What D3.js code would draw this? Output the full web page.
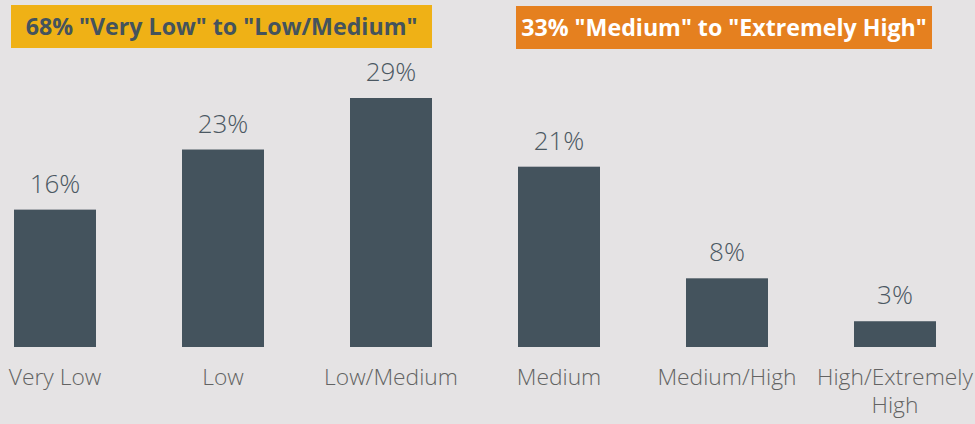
<!DOCTYPE html>
<html>
<head>
<meta charset="utf-8">
<script src="https://cdn.jsdelivr.net/npm/d3@7"></script>
<style>
  html, body { margin: 0; padding: 0; background: #e5e3e4; }
  svg { display: block; }
</style>
</head>
<body>
<svg id="chart" width="975" height="424"></svg>
<script>
// Share of responses by risk level
const categories = ["Very Low", "Low", "Low/Medium", "Medium", "Medium/High", "High/Extremely High"];
const categoryLines = [["Very Low"], ["Low"], ["Low/Medium"], ["Medium"], ["Medium/High"], ["High/Extremely", "High"]];
const values = [16, 23, 29, 21, 8, 3];

// Group summary banners
const groupLabels = ['68% "Very Low" to "Low/Medium"', '33% "Medium" to "Extremely High"'];
const groupFill = ["#efb116", "#e5801f"];
const groupText = ["#44535d", "#ffffff"];

const W = 975, H = 424;
const baseline = 347;
const svg = d3.select("#chart");

svg.append("rect").attr("width", W).attr("height", H).attr("fill", "#e5e3e4");

const x = d3.scaleBand()
  .domain(categories)
  .range([-29, 979])
  .paddingInner(0.512)
  .paddingOuter(0.256);

const y = d3.scaleLinear()
  .domain([0, 29])
  .range([baseline, 98]);

// Bars
svg.append("g").selectAll("rect")
  .data(values)
  .join("rect")
  .attr("x", (d, i) => x(categories[i]))
  .attr("y", d => y(d))
  .attr("width", x.bandwidth())
  .attr("height", d => baseline - y(d))
  .attr("fill", "#44535d");

// Value labels
svg.append("g").selectAll("text")
  .data(values)
  .join("text")
  .attr("x", (d, i) => x(categories[i]) + x.bandwidth() / 2)
  .attr("y", d => y(d) - 17)
  .attr("text-anchor", "middle")
  .attr("font-family", "'Open Sans', sans-serif")
  .attr("font-weight", 300)
  .attr("font-size", 26)
  .attr("fill", "#4b5862")
  .text(d => d + "%");

// Category axis labels
const cat = svg.append("g").selectAll("text")
  .data(categories)
  .join("text")
  .attr("x", d => x(d) + x.bandwidth() / 2)
  .attr("y", 385)
  .attr("text-anchor", "middle")
  .attr("font-family", "'Open Sans', sans-serif")
  .attr("font-weight", 300)
  .attr("font-size", 22.8)
  .attr("fill", "#636363");
cat.selectAll("tspan")
  .data((d, i) => categoryLines[i])
  .join("tspan")
  .attr("x", function() { return this.parentNode.getAttribute("x"); })
  .attr("dy", (d, j) => j === 0 ? 0 : 28)
  .text(d => d);

// Group banners
const banners = [
  { x0: 11, x1: 432, y0: 5, y1: 48 },
  { x0: 516, x1: 932, y0: 6, y1: 49 }
];
const bg = svg.append("g").selectAll("g")
  .data(groupLabels)
  .join("g");
bg.append("rect")
  .attr("x", (d, i) => banners[i].x0)
  .attr("y", (d, i) => banners[i].y0)
  .attr("width", (d, i) => banners[i].x1 - banners[i].x0)
  .attr("height", (d, i) => banners[i].y1 - banners[i].y0)
  .attr("fill", (d, i) => groupFill[i]);
bg.append("text")
  .attr("x", (d, i) => (banners[i].x0 + banners[i].x1) / 2)
  .attr("y", (d, i) => banners[i].y0 + 30)
  .attr("text-anchor", "middle")
  .attr("font-family", "'Open Sans', sans-serif")
  .attr("font-weight", 700)
  .attr("font-size", 23.2)
  .attr("fill", (d, i) => groupText[i])
  .text(d => d);
</script>
</body>
</html>
